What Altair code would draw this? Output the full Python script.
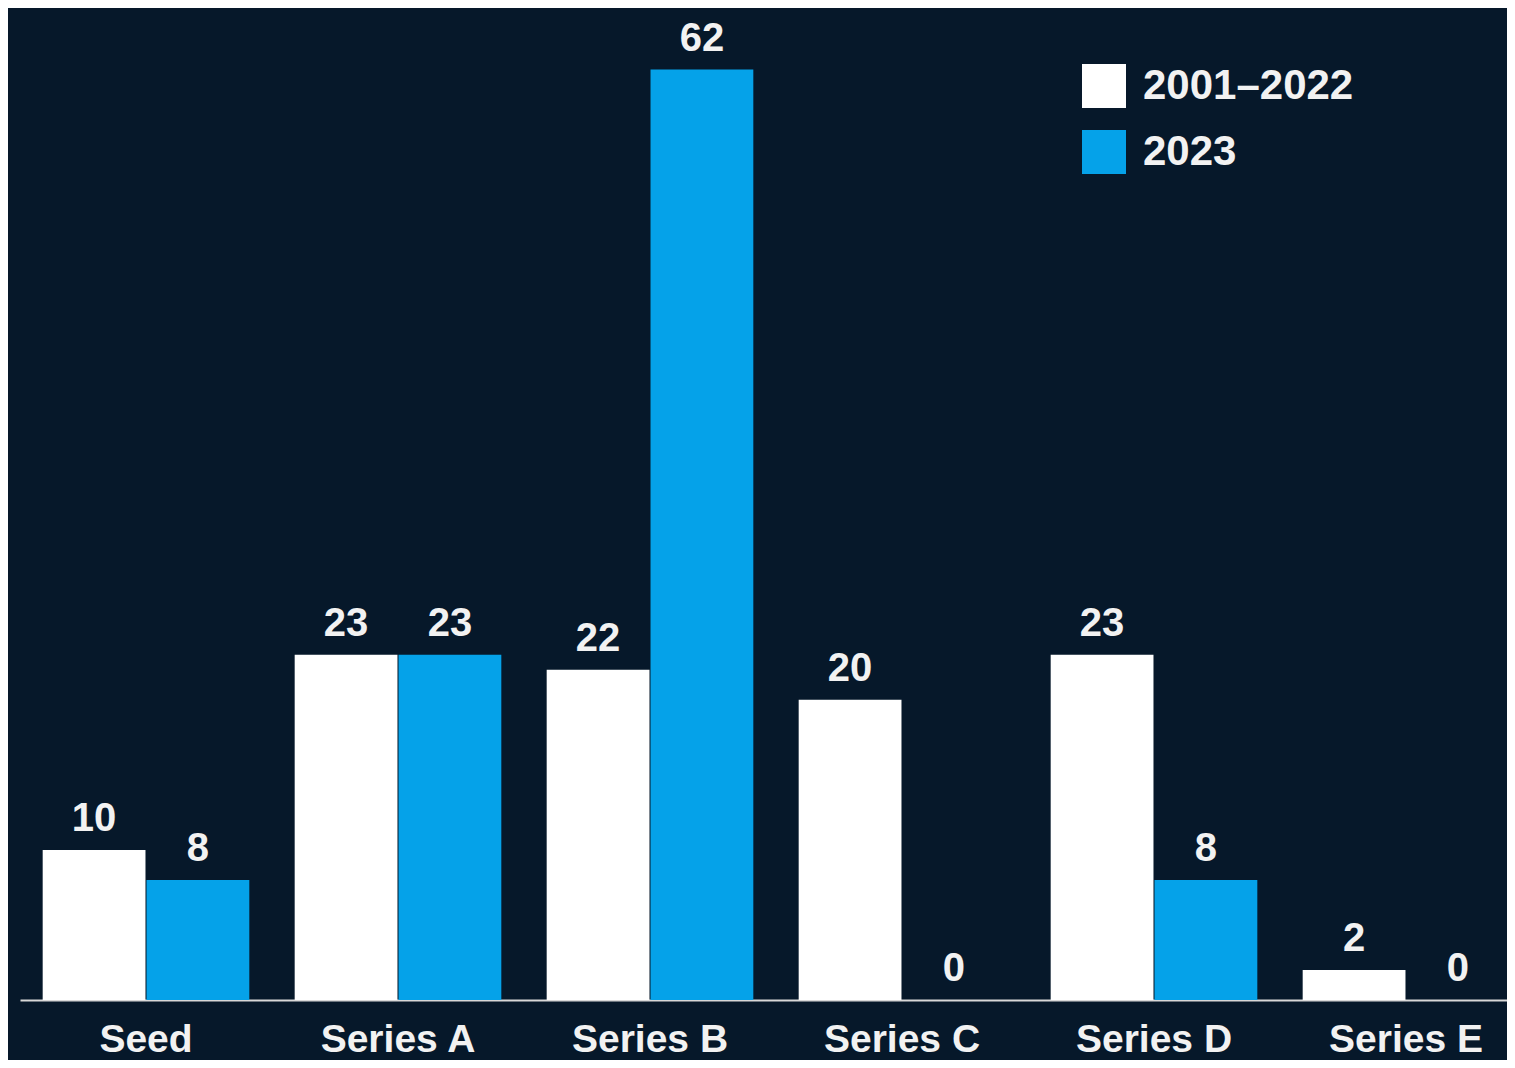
import altair as alt
import pandas as pd

categories = ["Seed", "Series A", "Series B", "Series C", "Series D", "Series E"]
series_names = ["2001–2022", "2023"]
values_2001_2022 = [10, 23, 22, 20, 23, 2]
values_2023 = [8, 23, 62, 0, 8, 0]

rows = []
for c, a, b in zip(categories, values_2001_2022, values_2023):
    rows.append({"stage": c, "period": series_names[0], "value": a})
    rows.append({"stage": c, "period": series_names[1], "value": b})
df = pd.DataFrame(rows)

BG = "#06182A"
WHITE = "#FFFFFF"
BLUE = "#05A2E9"
FONT = "Liberation Sans"

x = alt.X("stage:N", sort=categories, title=None,
          scale=alt.Scale(paddingInner=0.18, paddingOuter=0.09, range=[0, 1512]),
          axis=alt.Axis(labelAngle=0, labelFontSize=39, labelFont=FONT, labelFontWeight="bold",
                        labelColor="#F2F2F2", labelPadding=20, ticks=False, labelLimit=0,
                        domainColor="#D8D8D8", domainWidth=2))
xo = alt.XOffset("period:N", sort=series_names, scale=alt.Scale(paddingInner=0.01))
y = alt.Y("value:Q", scale=alt.Scale(domain=[0, 66.1], nice=False), axis=None)

bars = alt.Chart(df).mark_bar().encode(
    x=x, xOffset=xo, y=y,
    color=alt.Color("period:N", sort=series_names,
                    scale=alt.Scale(domain=series_names, range=[WHITE, BLUE]),
                    legend=alt.Legend(title=None, orient="none", legendX=1062, legendY=56,
                                      symbolType="square", symbolSize=1936, symbolStrokeWidth=0,
                                      symbolOpacity=1, labelLimit=0,
                                      labelFontSize=42, labelFont=FONT, labelFontWeight="bold",
                                      labelColor="#F2F2F2", labelOffset=17, rowPadding=22,
                                      padding=0)),
)

labels = alt.Chart(df).mark_text(
    baseline="alphabetic", dy=-19, fontSize=40, font=FONT, fontWeight="bold", color="#F2F2F2"
).encode(x=x, xOffset=xo, y=y, text=alt.Text("value:Q"))

chart = (bars + labels).properties(
    width=1487, height=992, background=BG,
    padding={"left": 12, "top": 0, "right": 0, "bottom": 60},
    autosize=alt.AutoSizeParams(type="none"),
).configure_view(stroke=None)

chart.save("out.html", embed_options={"renderer": "svg", "actions": False})
